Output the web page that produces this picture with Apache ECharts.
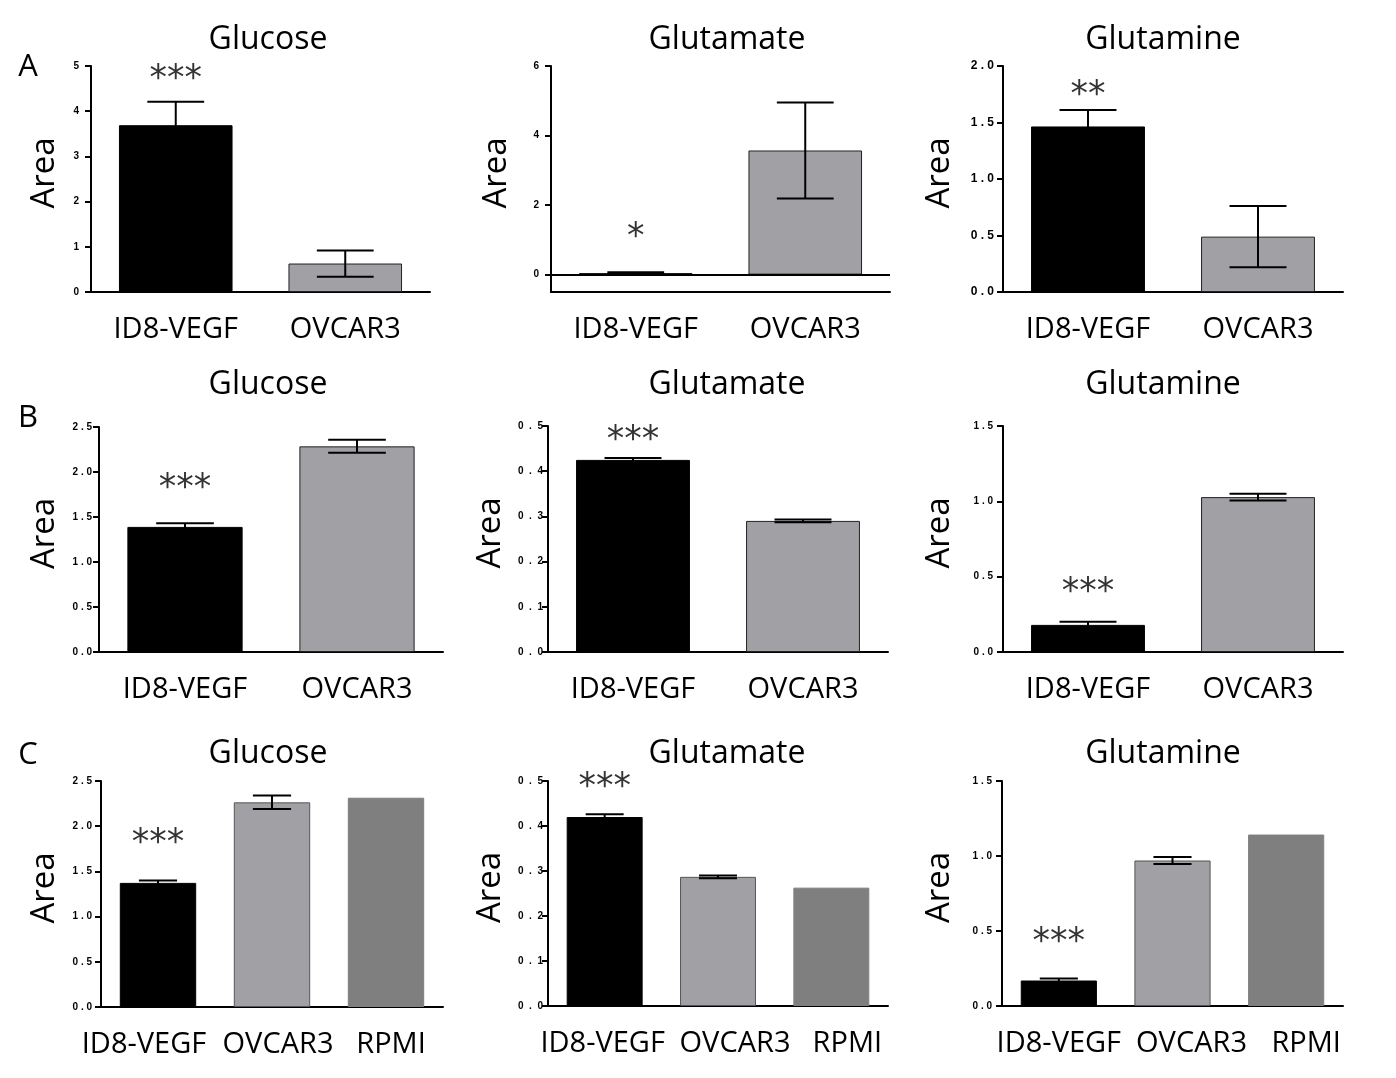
<!DOCTYPE html>
<html><head><meta charset="utf-8">
<script src="https://cdn.jsdelivr.net/npm/echarts@6/dist/echarts.min.js"></script>
<style>html,body{margin:0;padding:0;background:#fff}#c{width:1396px;height:1078px}</style>
</head><body><div id="c"></div>
<script>
// ---------- data ----------
const metabolites = ['Glucose', 'Glutamate', 'Glutamine'];
const panelLetters = ['A', 'B', 'C'];
const catsAB = ['ID8-VEGF', 'OVCAR3'];
const catsC = ['ID8-VEGF', 'OVCAR3', 'RPMI'];

const meanA_glucose = [3.69, 0.63];
const meanA_glutamate = [0.04, 3.57];
const meanA_glutamine = [1.465, 0.49];
const meanB_glucose = [1.39, 2.285];
const meanB_glutamate = [0.425, 0.29];
const meanB_glutamine = [0.18, 1.028];
const meanC_glucose = [1.373, 2.264, 2.315];
const meanC_glutamate = [0.42, 0.287, 0.263];
const meanC_glutamine = [0.17, 0.97, 1.143];

const errA_glucose = [0.52, 0.29];
const errA_glutamate = [0.03, 1.38];
const errA_glutamine = [0.145, 0.27];
const errB_glucose = [0.04, 0.072];
const errB_glutamate = [0.004, 0.003];
const errB_glutamine = [0.02, 0.022];
const errC_glucose = [0.027, 0.075, null];
const errC_glutamate = [0.006, 0.003, null];
const errC_glutamine = [0.014, 0.023, null];

// significance marks on ID8-VEGF and the value height where they sit
const starsA = ['***', '*', '**'];
const starsB = ['***', '***', '***'];
const starsC = ['***', '***', '***'];
const starAtA = [4.86, 1.29, 1.81];
const starAtB = [1.90, 0.484, 0.443];
const starAtC = [1.89, 0.503, 0.475];

const yMinA = [0, -0.5, 0], yMaxA = [5, 6, 2];
const yMinB = [0, 0, 0], yMaxB = [2.5, 0.5, 1.5];
const yMinC = [0, 0, 0], yMaxC = [2.5, 0.5, 1.5];
const ticksA = [[0, 1, 2, 3, 4, 5], [0, 2, 4, 6], [0, 0.5, 1, 1.5, 2]];
const ticksBC = [[0, 0.5, 1, 1.5, 2, 2.5], [0, 0.1, 0.2, 0.3, 0.4, 0.5], [0, 0.5, 1, 1.5]];

// ---------- layout / style ----------
const barColors = ['#000000', '#a1a0a5', '#7f7f7f'];
const gridPos = [
  [[91, 66, 339, 226], [551, 66, 339, 226], [1003, 66, 340, 226]],
  [[99, 427, 344, 225], [548, 426, 340, 226], [1003, 426, 340, 226]],
  [[101, 781, 342, 226], [548, 781, 340, 225], [1002, 781, 341, 225]]
];
const nameGaps = [[30, 38, 47], [38, 41, 47], [40, 41, 46]];
const labelMargins = [[12, 12, 9], [7, 5, 10], [9, 5, 10]];
// horizontal nudge of category labels in row C (px)
const catShiftC = [[-14, 6, 5], [-2, 17, 16], [0, 19, 20]];
const titleX = [268, 727, 1163];
const titleY = [40, 385, 754];
const letterY = [67, 418, 755];

const means = [[meanA_glucose, meanA_glutamate, meanA_glutamine],
               [meanB_glucose, meanB_glutamate, meanB_glutamine],
               [meanC_glucose, meanC_glutamate, meanC_glutamine]];
const errs = [[errA_glucose, errA_glutamate, errA_glutamine],
              [errB_glucose, errB_glutamate, errB_glutamine],
              [errC_glucose, errC_glutamate, errC_glutamine]];
const stars = [starsA, starsB, starsC];
const starAt = [starAtA, starAtB, starAtC];
const yMins = [yMinA, yMinB, yMinC];
const yMaxs = [yMaxA, yMaxB, yMaxC];

const FONT = "'Open Sans', 'Noto Sans', sans-serif";
const TICKFONT = "'Liberation Sans', Arial, sans-serif";

function renderErr(params, api) {
  const x = api.value(0), lo = api.value(1), hi = api.value(2);
  const pHi = api.coord([x, hi]), pLo = api.coord([x, lo]);
  const bw = api.size([1, 0])[0] * 0.67;
  const hw = bw * 0.25;
  const st = { stroke: '#000', lineWidth: 2 };
  return { type: 'group', children: [
    { type: 'line', shape: { x1: pHi[0], y1: pHi[1], x2: pLo[0], y2: pLo[1] }, style: st },
    { type: 'line', shape: { x1: pHi[0] - hw, y1: pHi[1], x2: pHi[0] + hw, y2: pHi[1] }, style: st },
    { type: 'line', shape: { x1: pLo[0] - hw, y1: pLo[1], x2: pLo[0] + hw, y2: pLo[1] }, style: st }
  ]};
}

const grid = [], xAxis = [], yAxis = [], series = [], graphic = [];
for (let r = 0; r < 3; r++) {
  graphic.push({ type: 'text', x: 28, y: letterY[r], style: { text: panelLetters[r], font: '31px ' + FONT, fill: '#000', textAlign: 'center', textVerticalAlign: 'middle' } });
  for (let c = 0; c < 3; c++) {
    const k = r * 3 + c;
    const cats = r === 2 ? catsC : catsAB;
    const gp = gridPos[r][c];
    graphic.push({ type: 'text', x: titleX[c], y: titleY[r], style: { text: metabolites[c], font: '32px ' + FONT, fill: '#000', textAlign: 'center', textVerticalAlign: 'middle' } });
    grid.push({ left: gp[0], top: gp[1], width: gp[2], height: gp[3], containLabel: false });
    const rich = {};
    cats.forEach((n, i) => {
      const d = r === 2 ? catShiftC[c][i] : 0;
      rich['c' + i] = { fontFamily: FONT, fontSize: 29, color: '#000',
        padding: d >= 0 ? [0, 0, 0, 2 * d] : [0, -2 * d, 0, 0] };
    });
    xAxis.push({
      type: 'category', gridIndex: k, data: cats,
      axisLine: { onZero: false, lineStyle: { color: '#000', width: 2 } },
      axisTick: { alignWithLabel: true, length: 6, lineStyle: { color: '#000', width: 2 } },
      axisLabel: { color: '#000', fontFamily: FONT, fontSize: 29, margin: 23, interval: 0,
        formatter: (v, i) => '{c' + i + '|' + v + '}', rich },
      splitLine: { show: false }
    });
    const tv = r === 0 ? ticksA[c] : ticksBC[c];
    const spaced = !(r === 0 && c < 2);
    const gap = (c === 1) ? '  ' : ' ';
    const tfs = (r === 0 && c === 2) ? 12 : 10;
    yAxis.push({
      type: 'value', gridIndex: k, min: yMins[r][c], max: yMaxs[r][c],
      name: 'Area', nameLocation: 'middle', nameGap: nameGaps[r][c],
      nameTextStyle: { color: '#000', fontFamily: FONT, fontSize: 33, padding: [0, 0, 0, 12] },
      axisLine: { show: true, lineStyle: { color: '#000', width: 2 } },
      axisTick: { show: true, length: 6, customValues: tv, lineStyle: { color: '#000', width: 2 } },
      axisLabel: {
        customValues: tv, color: '#000', fontFamily: TICKFONT, fontWeight: 'bold', fontSize: tfs,
        margin: labelMargins[r][c],
        formatter: v => spaced ? (+v).toFixed(1).split('').join(gap) : String(v)
      },
      splitLine: { show: false }
    });
    const barData = means[r][c].map((v, i) => ({
      value: v,
      itemStyle: {
        color: barColors[i],
        borderColor: i === 0 ? '#000' : (i === 2 ? barColors[2] : (r === 2 ? '#555' : '#222')),
        borderWidth: 1
      }
    }));
    const bar = {
      type: 'bar', xAxisIndex: k, yAxisIndex: k, data: barData,
      barCategoryGap: '33%', animation: false, silent: true
    };
    if (yMins[r][c] < 0) {
      bar.markLine = { silent: true, symbol: 'none', label: { show: false },
        lineStyle: { color: '#000', width: 2, type: 'solid' }, data: [{ yAxis: 0 }], animation: false };
    }
    series.push(bar);
    const eData = [];
    means[r][c].forEach((m, i) => {
      const e = errs[r][c][i];
      if (e != null) eData.push([i, m - e, m + e]);
    });
    series.push({ type: 'custom', xAxisIndex: k, yAxisIndex: k, renderItem: renderErr,
      data: eData, encode: { x: 0, y: [1, 2] }, animation: false, silent: true, z: 5 });
    series.push({ type: 'scatter', xAxisIndex: k, yAxisIndex: k, clip: false, symbolSize: 1,
      itemStyle: { color: 'rgba(0,0,0,0)' }, animation: false, silent: true,
      data: [{ name: stars[r][c], value: [0, starAt[r][c]] }],
      label: { show: true, position: 'inside', formatter: '{b}', color: '#000',
        fontFamily: "'DejaVu Sans', sans-serif", fontSize: 35, offset: [0, 8] } });
  }
}

const chart = echarts.init(document.getElementById('c'), null, { renderer: 'canvas' });
chart.setOption({ animation: false, backgroundColor: '#fff', grid, xAxis, yAxis, series, graphic });
</script></body></html>
